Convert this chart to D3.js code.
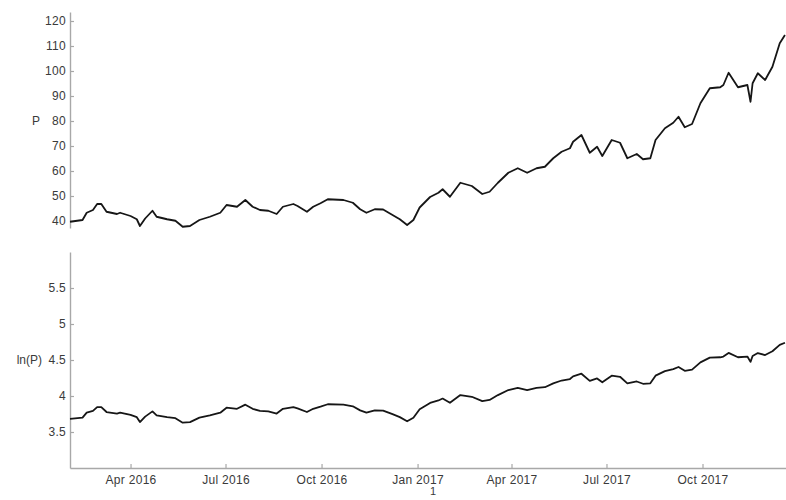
<!DOCTYPE html>
<html>
<head>
<meta charset="utf-8">
<script src="https://cdn.jsdelivr.net/npm/d3@7"></script>
<style>
  body { margin: 0; background: #fff; }
  svg text { font-family: "Liberation Sans", Arial, Helvetica, sans-serif; }
</style>
</head>
<body>
<svg id="chart" width="786" height="500"></svg>
<script>
// Observation dates (roughly weekly samples of the price path)
const dates = [
  "2016-02-03","2016-02-15","2016-02-19","2016-02-25","2016-02-29","2016-03-04","2016-03-09","2016-03-19",
  "2016-03-22","2016-04-01","2016-04-07","2016-04-10","2016-04-15","2016-04-22","2016-04-26","2016-05-06",
  "2016-05-14","2016-05-21","2016-05-28","2016-06-06","2016-06-16","2016-06-26","2016-07-02","2016-07-12",
  "2016-07-20","2016-07-27","2016-08-03","2016-08-11","2016-08-19","2016-08-25","2016-09-04","2016-09-08",
  "2016-09-17","2016-09-23","2016-09-30","2016-10-07","2016-10-22","2016-10-31","2016-11-07","2016-11-13",
  "2016-11-21","2016-11-29","2016-12-08","2016-12-15","2016-12-22","2016-12-28","2017-01-03","2017-01-13",
  "2017-01-21","2017-01-25","2017-02-01","2017-02-11","2017-02-22","2017-03-04","2017-03-11","2017-03-19",
  "2017-03-29","2017-04-07","2017-04-16","2017-04-25","2017-05-03","2017-05-11","2017-05-19","2017-05-27",
  "2017-05-30","2017-06-07","2017-06-15","2017-06-22","2017-06-27","2017-07-06","2017-07-14","2017-07-21",
  "2017-07-30","2017-08-05","2017-08-12","2017-08-17","2017-08-26","2017-09-03","2017-09-08","2017-09-14",
  "2017-09-21","2017-09-29","2017-10-08","2017-10-18","2017-10-21","2017-10-26","2017-11-04","2017-11-13",
  "2017-11-16","2017-11-18","2017-11-23","2017-11-30","2017-12-07","2017-12-14","2017-12-19"
];

// Price P
const price = [
  39.7, 40.4, 43.3, 44.4, 46.8, 46.8, 43.7, 42.8,
  43.3, 42.0, 40.7, 38.0, 41.0, 44.1, 41.7, 40.7,
  40.1, 37.7, 38.0, 40.4, 41.7, 43.3, 46.4, 45.7,
  48.4, 45.7, 44.4, 44.1, 42.8, 45.7, 46.8, 46.0,
  43.7, 45.7, 47.1, 48.7, 48.4, 47.3, 44.7, 43.3,
  44.7, 44.6, 42.4, 40.7, 38.4, 40.4, 45.4, 49.6,
  51.3, 52.7, 49.7, 55.3, 54.0, 50.8, 51.7, 55.3,
  59.3, 61.1, 59.3, 61.1, 61.7, 65.1, 67.7, 69.1,
  71.7, 74.4, 67.3, 69.7, 66.0, 72.4, 71.3, 65.1,
  66.8, 64.7, 65.1, 72.4, 77.1, 79.3, 81.7, 77.5,
  78.8, 87.1, 93.1, 93.5, 94.4, 99.3, 93.5, 94.4,
  87.7, 95.1, 99.1, 96.4, 101.7, 111.1, 114.4
];

// Natural log of the price, ln(P)
const logPrice = [
  3.6814, 3.6988, 3.7682, 3.7932, 3.8459, 3.8459, 3.7774, 3.7565,
  3.7682, 3.7377, 3.7062, 3.6376, 3.7136, 3.7865, 3.7305, 3.7062,
  3.6914, 3.6297, 3.6376, 3.6988, 3.7305, 3.7682, 3.8373, 3.8221,
  3.8795, 3.8221, 3.7932, 3.7865, 3.7565, 3.8221, 3.8459, 3.8286,
  3.7774, 3.8221, 3.8522, 3.8857, 3.8795, 3.8565, 3.8000, 3.7682,
  3.8000, 3.7977, 3.7471, 3.7062, 3.6481, 3.6988, 3.8155, 3.9040,
  3.9377, 3.9646, 3.9060, 4.0127, 3.9890, 3.9279, 3.9455, 4.0127,
  4.0826, 4.1125, 4.0826, 4.1125, 4.1222, 4.1759, 4.2151, 4.2356,
  4.2725, 4.3095, 4.2092, 4.2442, 4.1897, 4.2822, 4.2669, 4.1759,
  4.2017, 4.1698, 4.1759, 4.2822, 4.3451, 4.3732, 4.4030, 4.3503,
  4.3669, 4.4670, 4.5337, 4.5380, 4.5475, 4.5981, 4.5380, 4.5475,
  4.4739, 4.5549, 4.5961, 4.5685, 4.6220, 4.7104, 4.7397
];

const priceTicks = [40, 50, 60, 70, 80, 90, 100, 110, 120];
const logTicks = [3.5, 4, 4.5, 5, 5.5];

const parse = d3.timeParse("%Y-%m-%d");
const t = dates.map(parse);

const svg = d3.select("#chart");
const axisColor = "#a8a8a8";
const textColor = "#3a3a3a";

const x = d3.scaleTime()
  .domain([parse("2016-02-03"), parse("2017-12-20")])
  .range([70, 786]);

const yTop = d3.scaleLinear().domain([37.2, 123.6]).range([228, 12]);
const yBot = d3.scaleLinear().domain([3, 6]).range([468, 252]);

function styleAxis(g) {
  g.selectAll(".domain").attr("stroke", axisColor).attr("stroke-width", 1.4);
  g.selectAll(".tick line").attr("stroke", axisColor).attr("stroke-width", 1.2);
  g.selectAll(".tick text").attr("fill", textColor).attr("font-size", 12)
    .attr("letter-spacing", "0.3px")
    .attr("font-family", "'Liberation Sans', Arial, Helvetica, sans-serif");
}

// Left axes, ticks pointing into the plot
svg.append("g")
  .attr("transform", "translate(70,0)")
  .call(d3.axisLeft(yTop).tickValues(priceTicks).tickSizeInner(-4).tickSizeOuter(0).tickPadding(4))
  .call(styleAxis);

svg.append("g")
  .attr("transform", "translate(70,0)")
  .call(d3.axisLeft(yBot).tickValues(logTicks).tickFormat(d3.format("~g"))
    .tickSizeInner(-4).tickSizeOuter(0).tickPadding(4))
  .call(styleAxis);

// Shared time axis under the lower panel
svg.append("g")
  .attr("transform", "translate(0,468)")
  .call(d3.axisBottom(x).ticks(d3.timeMonth.every(3)).tickFormat(d3.timeFormat("%b %Y"))
    .tickSizeInner(-4).tickSizeOuter(0).tickPadding(7))
  .call(styleAxis);

// Series lines
const lineTop = d3.line().x((d, i) => x(t[i])).y(d => yTop(d));
const lineBot = d3.line().x((d, i) => x(t[i])).y(d => yBot(d));

svg.append("path").datum(price)
  .attr("d", lineTop).attr("fill", "none")
  .attr("stroke", "#161616").attr("stroke-width", 1.8).attr("stroke-linejoin", "round");

svg.append("path").datum(logPrice)
  .attr("d", lineBot).attr("fill", "none")
  .attr("stroke", "#161616").attr("stroke-width", 1.8).attr("stroke-linejoin", "round");

// Variable labels
svg.append("text").attr("x", 36).attr("y", 121).attr("dy", "0.32em")
  .attr("text-anchor", "middle").attr("font-size", 12).attr("fill", textColor).text("P");

svg.append("text").attr("x", 42).attr("y", yBot(4.5)).attr("dy", "0.32em")
  .attr("text-anchor", "end").attr("font-size", 12).attr("fill", textColor).text("ln(P)");

// x-axis label
svg.append("text").attr("x", 433).attr("y", 495)
  .attr("text-anchor", "middle").attr("font-size", 11).attr("fill", textColor).text("1");
</script>
</body>
</html>
